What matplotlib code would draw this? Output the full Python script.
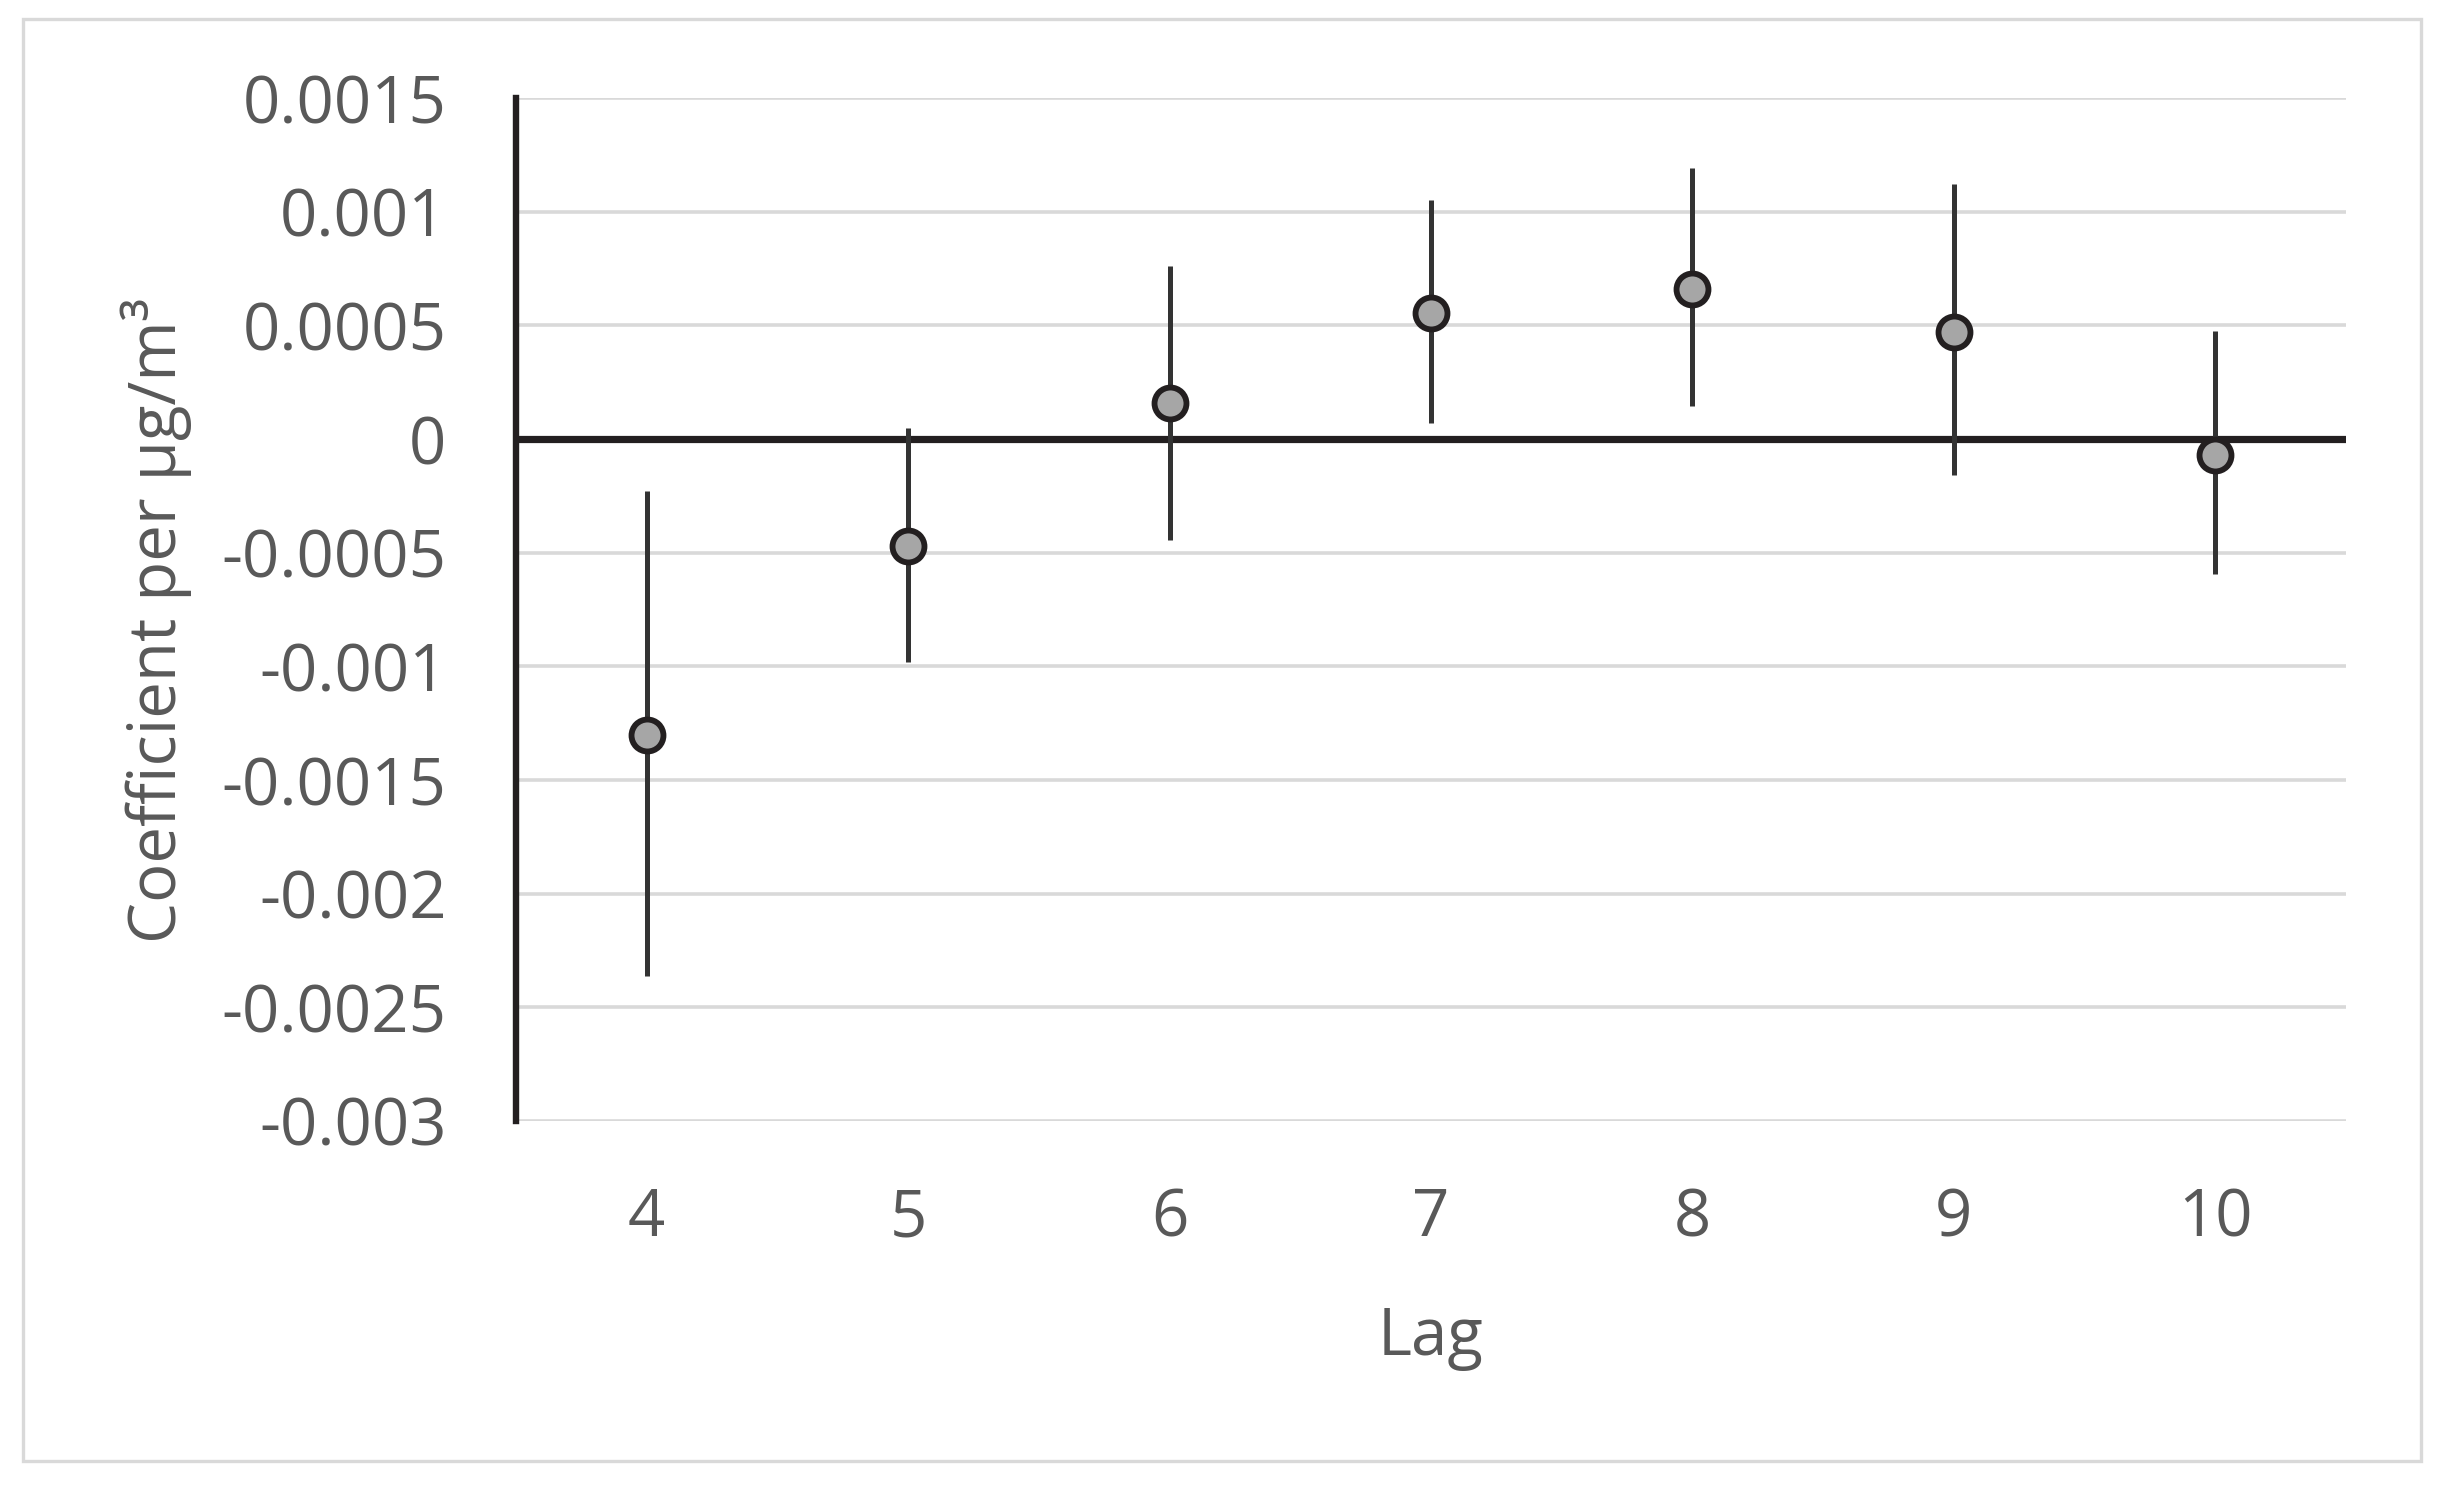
import matplotlib
matplotlib.use("Agg")
import matplotlib.pyplot as plt
from matplotlib.patches import Rectangle

# 読み取った値 (Lag ごとの係数と信頼区間)
lags = [4, 5, 6, 7, 8, 9, 10]
coef = [-0.00130, -0.00047, 0.00016, 0.000555, 0.00066, 0.00047, -0.00007]
ci_low = [-0.00236, -0.00098, -0.000445, 0.00007, 0.000145, -0.00016, -0.000595]
ci_high = [-0.00023, 0.00005, 0.00076, 0.00105, 0.00119, 0.00112, 0.000475]
y_ticks = [0.0015, 0.001, 0.0005, 0, -0.0005, -0.001, -0.0015, -0.002, -0.0025, -0.003]
y_labels = ["0.0015", "0.001", "0.0005", "0", "-0.0005", "-0.001", "-0.0015", "-0.002", "-0.0025", "-0.003"]

plt.rcParams['font.family'] = ['Open Sans', 'DejaVu Sans']
text_col = "#595959"
fs = 47

fig = plt.figure(figsize=(24.44, 14.87), dpi=100)
ax = fig.add_axes([516/2444, 1 - 1121/1487, (2346-516)/2444, (1121-98)/1487])

# 外枠
fig.patches.append(Rectangle((23/2444, 1 - 1461/1487), 2398/2444, 1442/1487,
                             transform=fig.transFigure, fill=False,
                             edgecolor="#D9D9D9", linewidth=2.4, zorder=0))

for yt in y_ticks:
    if yt != 0:
        ax.axhline(yt, color="#D9D9D9", linewidth=2.6, zorder=1)
ax.axhline(0, color="#231F20", linewidth=5.2, zorder=2)

err_lo = [c - l for c, l in zip(coef, ci_low)]
err_hi = [h - c for c, h in zip(coef, ci_high)]
ax.errorbar(lags, coef, yerr=[err_lo, err_hi], fmt="none", ecolor="#333333",
            elinewidth=3.6, capsize=0, zorder=3)
ax.plot(lags, coef, "o", markersize=23, markerfacecolor="#A6A6A6",
        markeredgecolor="#231F20", markeredgewidth=4.2, zorder=4)

ax.set_xlim(3.5, 10.5)
ax.set_ylim(-0.003, 0.0015)
ax.set_xticks(lags)
ax.set_xticklabels([str(l) for l in lags])
ax.set_yticks(y_ticks)
ax.set_yticklabels(y_labels)
ax.tick_params(axis="both", length=0, labelsize=fs, labelcolor=text_col)
ax.tick_params(axis="y", pad=50)
ax.tick_params(axis="x", pad=47)

for s in ["top", "right", "bottom"]:
    ax.spines[s].set_visible(False)
ax.spines["left"].set_color("#231F20")
ax.spines["left"].set_linewidth(4.6)
ax.spines["left"].set_zorder(2)

ax.set_xlabel("Lag", fontsize=fs, color=text_col, labelpad=38)
fig.text(156/2444, 1 - 620/1487, "Coefficient per μg/m³", rotation=90,
         ha="center", va="center", fontsize=fs, color=text_col)

plt.savefig("out.png", dpi=100)
